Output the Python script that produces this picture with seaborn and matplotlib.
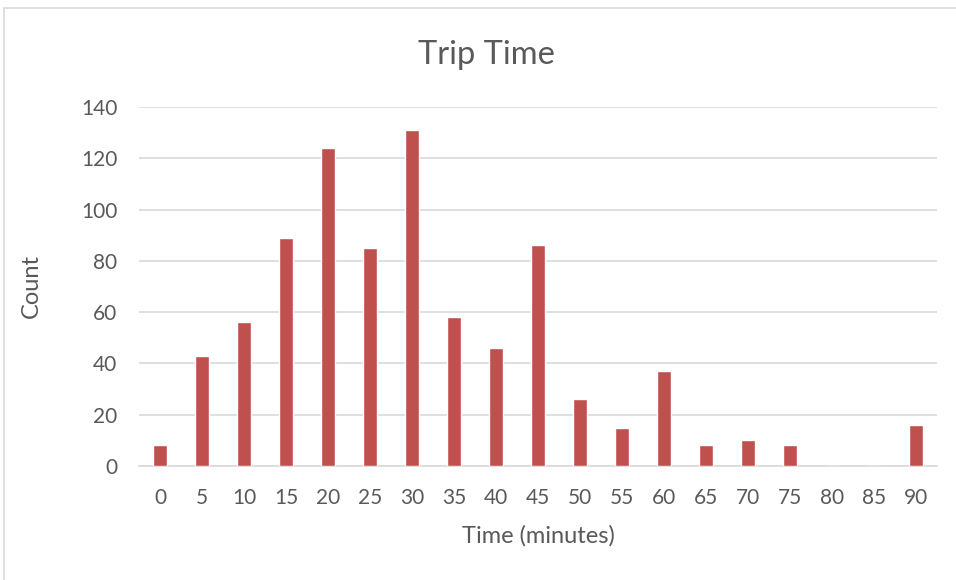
import matplotlib
matplotlib.use("Agg")
import matplotlib.pyplot as plt
from matplotlib.patches import Rectangle
import seaborn as sns
import pandas as pd

# Trip durations binned in 5-minute steps
minutes = [0, 5, 10, 15, 20, 25, 30, 35, 40, 45, 50, 55, 60, 65, 70, 75, 80, 85, 90]
counts = [8, 43, 56, 89, 124, 85, 131, 58, 46, 86, 26, 15, 37, 8, 10, 8, 0, 0, 16]
y_ticks = [0, 20, 40, 60, 80, 100, 120, 140]

df = pd.DataFrame({"Time": [str(m) for m in minutes], "Count": counts})

sns.set_theme(style="white")
plt.rcParams["font.family"] = ["Lato", "DejaVu Sans"]

text_color = "#595959"
grid_color = "#d9d9d9"
bar_color = "#c0504d"

W, H = 956, 580
fig = plt.figure(figsize=(W / 100, H / 100), dpi=100)
left, right, top, bottom = 139, 937, 107, 466
ax = fig.add_axes([left / W, 1 - bottom / H, (right - left) / W, (bottom - top) / H])

sns.barplot(data=df, x="Time", y="Count", order=df["Time"], color=bar_color,
            width=0.31, saturation=1, ax=ax, zorder=3)

ax.set_ylim(0, 140)
ax.set_yticks(y_ticks)
ax.set_xlim(-0.5, len(minutes) - 0.5)
ax.yaxis.grid(True, color=grid_color, linewidth=1.2, zorder=0)
ax.set_axisbelow(True)
for side in ["top", "right", "left"]:
    ax.spines[side].set_visible(False)
ax.spines["bottom"].set_color(grid_color)
ax.spines["bottom"].set_linewidth(1.2)
ax.tick_params(axis="both", length=0, labelsize=15, colors=text_color)
ax.tick_params(axis="x", pad=16)
ax.tick_params(axis="y", pad=15.5)

ax.set_xlabel("Time (minutes)", fontsize=17, color=text_color)
ax.set_ylabel("Count", fontsize=17, color=text_color)
ax.xaxis.label.set_va("center")
ax.yaxis.label.set_va("center")
ax.xaxis.set_label_coords(0.5, (bottom - 536) / (bottom - top))
ax.yaxis.set_label_coords((31 - left) / (right - left), 0.5)

fig.text(486 / W, 1 - 64 / H, "Trip Time", ha="center", va="baseline",
         fontsize=23.5, color=text_color)

# Chart frame
fig.patches.append(Rectangle((4 / W, -0.1), 1.2, 1 - 8 / H + 0.1,
                             transform=fig.transFigure, fill=False,
                             edgecolor=grid_color, linewidth=1.2))

fig.savefig("out.png", dpi=100)
